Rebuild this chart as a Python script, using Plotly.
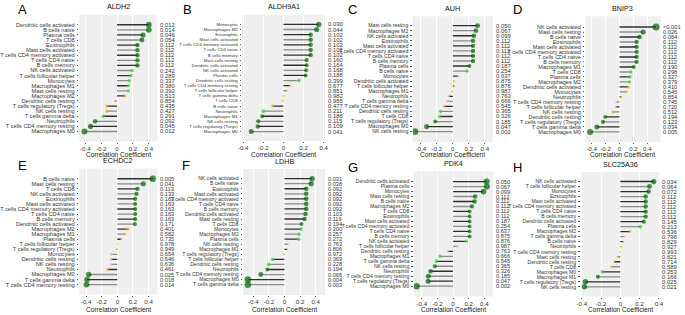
import plotly.graph_objects as go

# ---------------- data ----------------
A_cells = ["Dendritic cells activated","B cells naive","Plasma cells","T cells CD8","Eosinophils","Mast cells activated","T cells CD4 memory activated","T cells CD4 naive","B cells memory","NK cells activated","T cells follicular helper","Monocytes","Macrophages M1","Mast cells resting","Macrophages M2","Dendritic cells resting","T cells regulatory (Tregs)","NK cells resting","T cells gamma delta","Neutrophils","T cells CD4 memory resting","Macrophages M0"]
A_r = [0.40,0.40,0.327,0.314,0.257,0.257,0.257,0.257,0.257,0.19,0.175,0.155,0.143,0.143,0.10,-0.03,-0.13,-0.13,-0.175,-0.277,-0.335,-0.41]
A_p = ["0.012","0.014","0.046","0.054","0.112","0.112","0.112","0.112","0.112","0.242","0.289","0.337","0.380","0.392","0.513","0.854","0.435","0.427","0.291","0.092","0.045","0.012"]

B_cells = ["Monocytes","Macrophages M2","Eosinophils","Mast cells activated","T cells CD4 memory activated","T cells CD4 naive","B cells memory","Mast cells resting","Dendritic cells activated","NK cells activated","Plasma cells","Dendritic cells resting","T cells CD4 memory resting","T cells follicular helper","T cells gamma delta","T cells CD8","B cells naive","Neutrophils","Macrophages M1","NK cells resting","T cells regulatory (Tregs)","Macrophages M0"]
B_r = [0.35,0.33,0.27,0.27,0.27,0.27,0.27,0.23,0.23,0.225,0.22,0.155,0.07,0.035,0.005,-0.007,-0.11,-0.20,-0.21,-0.25,-0.255,-0.32]
B_p = ["0.030","0.044","0.102","0.102","0.102","0.102","0.102","0.160","0.164","0.168","0.188","0.399","0.677","0.851","0.982","0.955","0.477","0.211","0.186","0.115","0.109","0.041"]

C_cells = ["Mast cells resting","Macrophages M2","NK cells activated","Eosinophils","Mast cells activated","T cells CD4 memory activated","T cells CD4 naive","B cells memory","Plasma cells","B cells naive","Monocytes","Dendritic cells activated","T cells follicular helper","Macrophages M1","Neutrophils","T cells gamma delta","T cells CD4 memory resting","Dendritic cells resting","T cells CD8","T cells regulatory (Tregs)","Macrophages M0","NK cells resting"]
C_r = [0.31,0.29,0.265,0.253,0.253,0.253,0.253,0.253,0.208,0.18,0.07,0.02,0.02,-0.012,-0.053,-0.07,-0.106,-0.155,-0.163,-0.22,-0.327,-0.473]
C_p = ["0.050","0.067","0.099","0.112","0.112","0.112","0.112","0.112","0.187","0.254","0.637","0.875","0.876","0.987","0.763","0.666","0.545","0.365","0.326","0.185","0.047","0.002"]

D_cells = ["NK cells activated","Mast cells resting","B cells naive","Eosinophils","Mast cells activated","T cells CD4 memory activated","T cells CD4 naive","B cells memory","Macrophages M1","T cells CD8","Plasma cells","Macrophages M2","Dendritic cells activated","Monocytes","Neutrophils","T cells CD4 memory resting","T cells follicular helper","NK cells resting","Dendritic cells resting","T cells regulatory (Tregs)","T cells gamma delta","Macrophages M0"]
D_r = [0.526,0.34,0.288,0.247,0.247,0.247,0.247,0.247,0.205,0.163,0.153,0.144,0.13,0.098,0.028,-0.05,-0.056,-0.098,-0.205,-0.237,-0.326,-0.423]
D_p = ["<0.001","0.026","0.064","0.112","0.112","0.112","0.112","0.112","0.190","0.298","0.327","0.379","0.410","0.545","0.854","0.745","0.720","0.512","0.194","0.123","0.034","0.005"]

E_cells = ["B cells naive","Mast cells resting","T cells CD8","NK cells activated","Eosinophils","Mast cells activated","T cells CD4 memory activated","T cells CD4 naive","B cells memory","Dendritic cells activated","Macrophages M2","Macrophages M1","Plasma cells","T cells follicular helper","T cells regulatory (Tregs)","Monocytes","Dendritic cells resting","NK cells resting","Neutrophils","Macrophages M0","T cells gamma delta","T cells CD4 memory resting"]
E_r = [0.454,0.333,0.258,0.246,0.229,0.229,0.229,0.229,0.229,0.225,0.138,0.096,0.054,0.003,-0.012,-0.08,-0.083,-0.083,-0.125,-0.367,-0.388,-0.396]
E_p = ["0.005","0.041","0.113","0.133","0.163","0.163","0.163","0.163","0.163","0.171","0.401","0.582","0.735","0.978","0.949","0.654","0.646","0.636","0.461","0.025","0.018","0.014"]

F_cells = ["NK cells activated","B cells naive","Eosinophils","Mast cells activated","T cells CD4 memory activated","T cells CD4 naive","B cells memory","Dendritic cells activated","Mast cells resting","T cells CD8","Monocytes","Macrophages M2","Plasma cells","NK cells resting","Macrophages M1","T cells regulatory (Tregs)","T cells follicular helper","Dendritic cells resting","Neutrophils","T cells CD4 memory resting","Macrophages M0","T cells gamma delta"]
F_r = [0.354,0.342,0.279,0.279,0.279,0.279,0.279,0.27,0.258,0.217,0.212,0.188,0.183,0.046,0.038,-0.017,-0.154,-0.204,-0.22,-0.304,-0.47,-0.47]
F_p = ["0.031","0.038","0.092","0.092","0.092","0.092","0.092","0.103","0.119","0.194","0.200","0.257","0.272","0.763","0.806","0.972","0.369","0.228","0.194","0.066","0.004","0.003"]

G_cells = ["Dendritic cells activated","Plasma cells","Monocytes","Mast cells resting","B cells naive","Macrophages M2","T cells CD8","Eosinophils","Mast cells activated","T cells CD4 memory activated","T cells CD4 naive","B cells memory","NK cells activated","T cells follicular helper","Dendritic cells resting","Macrophages M1","T cells gamma delta","NK cells resting","Neutrophils","T cells CD4 memory resting","T cells regulatory (Tregs)","Macrophages M0"]
G_r = [0.43,0.433,0.39,0.283,0.275,0.242,0.212,0.212,0.212,0.212,0.212,0.212,0.17,0.058,-0.067,-0.167,-0.212,-0.233,-0.288,-0.317,-0.32,-0.467]
G_p = ["0.050","0.067","0.099","0.112","0.112","0.112","0.112","0.112","0.187","0.254","0.637","0.875","0.876","0.987","0.763","0.666","0.545","0.365","0.326","0.185","0.047","0.002"]
# significance group shown by the dot colour in panel G (D=dark green, L=light green, P=pink)
G_group = ["D","D","D","D","D","D","D","D","D","D","D","D","L","P","P","L","L","D","D","D","D","D"]

H_cells = ["NK cells activated","T cells follicular helper","Monocytes","Eosinophils","Mast cells activated","T cells CD4 memory activated","T cells CD4 naive","B cells memory","Dendritic cells activated","Plasma cells","Macrophages M2","T cells gamma delta","B cells naive","Neutrophils","T cells CD4 memory resting","Mast cells resting","Dendritic cells resting","T cells CD8","Macrophages M0","Macrophages M1","T cells regulatory (Tregs)","NK cells resting"]
H_r = [0.347,0.303,0.293,0.263,0.263,0.263,0.263,0.263,0.243,0.207,0.10,0.043,0.033,0.015,-0.003,-0.033,-0.067,-0.09,-0.187,-0.233,-0.363,-0.373]
H_p = ["0.034","0.064","0.072","0.112","0.112","0.112","0.112","0.112","0.145","0.213","0.536","0.796","0.829","0.927","0.993","0.821","0.714","0.589","0.253","0.166","0.025","0.021"]

letters = ["A","B","C","D","E","F","G","H"]
genes = ["ALDH2","ALDH9A1","AUH","BNIP3","ECHDC2","LDHB","PDK4","SLC25A36"]
tick_vals = [-0.4, -0.2, 0, 0.2, 0.4]
tick_text = ["-0.4", "-0.2", "0", "0.2", "0.4"]
x_title = "Correlation Coefficient"

# ---------------- styling / layout ----------------
W, H = 685, 315
GROUP_COL = {"D": "#006400", "L": "#3ccc3c", "O": "#ffa500", "P": "#ffb6c1", "Y": "#ffd700"}

def group_of(p):
    v = 0.0005 if p.startswith("<") else float(p)
    if v < 0.2: return "D"
    if v < 0.4: return "L"
    if v < 0.6: return "O"
    if v < 0.8: return "P"
    return "Y"

panels = [
    (A_cells, A_r, A_p, None),
    (B_cells, B_r, B_p, None),
    (C_cells, C_r, C_p, None),
    (D_cells, D_r, D_p, None),
    (E_cells, E_r, E_p, None),
    (F_cells, F_r, F_p, None),
    (G_cells, G_r, G_p, G_group),
    (H_cells, H_r, H_p, None),
]
# plot areas in pixels: (x0, x1, y_top, y_bottom)
boxes = [(68,148,14.8,141.5),(235,320,14.8,141),(410,492,16.3,142),(587,664,16.3,142),
         (68,148,168.5,294.5),(236,320,169,295),(411,492,171.5,296.5),(582,663,172,296.5)]
xranges = [[-0.475,0.507],[-0.41,0.413],[-0.50,0.50],[-0.49,0.59],
           [-0.4875,0.5125],[-0.53,0.52],[-0.503,0.509],[-0.413,0.407]]
label_font = [5.6,4.4,5.2,5.5,5.6,5.1,5.1,5.1]
title_y = [154.5, 154.5, 154.5, 154.5, 309.5, 309.5, 309.5, 309.5]
letter_pos = [(3,9),(172,9),(341,9),(511,9),(3,165),(171,165),(341,167),(511,167)]
pval_font = [5.9, 5.9, 5.9, 5.7, 5.7, 5.6, 5.6, 5.9]

FONT = "Liberation Sans, Arial, sans-serif"
fig = go.Figure()
layout = dict(width=W, height=H, margin=dict(l=0, r=0, t=0, b=0),
              paper_bgcolor="white", plot_bgcolor="#efefef", showlegend=False,
              font=dict(family=FONT, color="#333"))
annotations = []

for i, (cells, r, p, grp) in enumerate(panels):
    k = "" if i == 0 else str(i + 1)
    xa, ya = "x" + k, "y" + k
    x0, x1, yt, yb = boxes[i]
    groups = grp if grp is not None else [group_of(v) for v in p]
    # stems, alternating dark / grey
    for parity, col in ((0, "#2f2f2f"), (1, "#8c8c8c")):
        xs, ys = [], []
        for j, (c, v) in enumerate(zip(cells, r)):
            if j % 2 == parity:
                xs += [0, v, None]; ys += [c, c, None]
        fig.add_trace(go.Scatter(x=xs, y=ys, mode="lines", xaxis=xa, yaxis=ya,
                                 line=dict(color=col, width=1.3), hoverinfo="skip"))
    fig.add_trace(go.Scatter(x=r, y=cells, mode="markers", xaxis=xa, yaxis=ya,
                             marker=dict(color=[GROUP_COL[g] for g in groups],
                                         size=[1.8 + 10 * abs(v) for v in r], line=dict(width=0))))
    layout["xaxis" + k] = dict(domain=[x0 / W, x1 / W], range=xranges[i], anchor=ya,
                               tickmode="array", tickvals=tick_vals, ticktext=tick_text,
                               showgrid=True, gridcolor="white", gridwidth=0.7, zeroline=False,
                               ticks="outside", ticklen=1, tickcolor="#555",
                               tickfont=dict(size=6.1, color="#333"))
    layout["yaxis" + k] = dict(domain=[1 - yb / H, 1 - yt / H], anchor=xa,
                               type="category", categoryorder="array", categoryarray=cells,
                               tickmode="array", tickvals=cells, ticktext=cells,
                               autorange="reversed", showgrid=False, zeroline=False,
                               ticks="outside", ticklen=1.5, tickcolor="#555",
                               ticklabelstandoff=1,
                               tickfont=dict(size=label_font[i], color="#333"))
    for c, v in zip(cells, p):
        annotations.append(dict(x=1.01, xref=xa + " domain", y=c, yref=ya, text=v,
                                showarrow=False, xanchor="left", yanchor="middle",
                                font=dict(size=pval_font[i], color="#333")))
    annotations.append(dict(x=(x0 + x1) / 2 / W, y=1 - (yt - 1.5) / H, xref="paper", yref="paper",
                            text=genes[i], showarrow=False, xanchor="center", yanchor="bottom",
                            font=dict(size=7.2, color="#111")))
    annotations.append(dict(x=(x0 + x1) / 2 / W, y=1 - title_y[i] / H, xref="paper", yref="paper",
                            text=x_title, showarrow=False, xanchor="center", yanchor="middle",
                            font=dict(size=6.6, color="#222")))
    lx, ly = letter_pos[i]
    annotations.append(dict(x=lx / W, y=1 - ly / H, xref="paper", yref="paper", text=letters[i],
                            showarrow=False, xanchor="left", yanchor="middle",
                            font=dict(size=13, color="#000")))

layout["annotations"] = annotations
fig.update_layout(**layout)
fig.write_html("out.html", config={"displayModeBar": False},
               post_script="document.body.style.margin='0px';")
